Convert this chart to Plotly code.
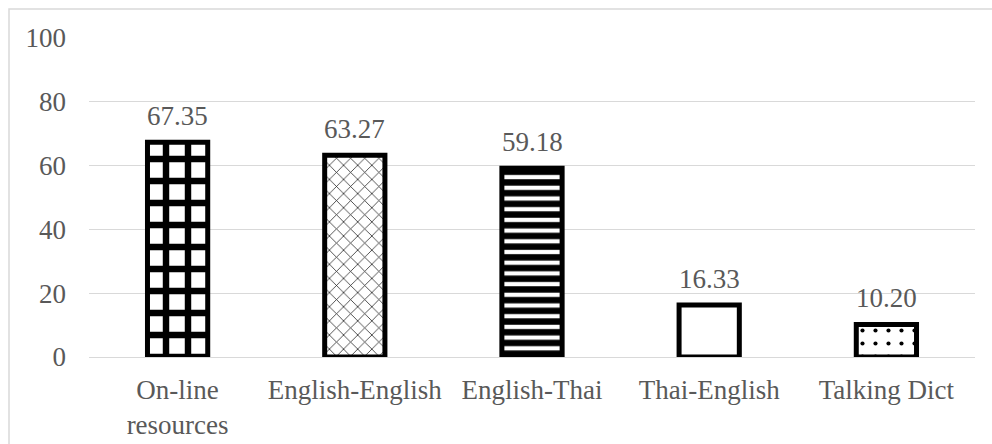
import plotly.graph_objects as go

categories = ["On-line<br>resources", "English-English", "English-Thai", "Thai-English", "Talking Dict"]
values = [67.35, 63.27, 59.18, 16.33, 10.20]
value_labels = ["67.35", "63.27", "59.18", "16.33", "10.20"]
y_ticks = [0, 20, 40, 60, 80, 100]

pattern_shapes = ["+", "x", "-", "", "."]
pattern_fg = ["black", "#222222", "black", "black", "black"]
pattern_size = [22, 10, 10.7, 10, 13]
pattern_solidity = [0.5, 0.15, 0.6, 0.3, 0.08]

FONT = "Liberation Serif"
GRAY = "#595959"
FS = 27

fig = go.Figure()
fig.add_trace(go.Bar(
    x=categories,
    y=values,
    width=0.34,
    marker=dict(
        color="white",
        line=dict(color="black", width=5),
        pattern=dict(shape=pattern_shapes, fgcolor=pattern_fg, bgcolor="white",
                     size=pattern_size, solidity=pattern_solidity,
                     fillmode="overlay", fgopacity=1),
    ),
    hoverinfo="skip",
))

for c, v, t in zip(categories, values, value_labels):
    fig.add_annotation(x=c, y=v, text=t, showarrow=False, yanchor="bottom", yshift=9,
                       font=dict(family=FONT, size=FS, color=GRAY))

fig.update_layout(
    width=992, height=444,
    margin=dict(l=89, r=17, t=38, b=87),
    paper_bgcolor="white",
    plot_bgcolor="white",
    showlegend=False,
    font=dict(family=FONT, size=FS, color=GRAY),
    xaxis=dict(showgrid=False, showline=False, ticks="", ticklabelstandoff=14, automargin=False,
               tickfont=dict(family=FONT, size=FS, color=GRAY)),
    yaxis=dict(range=[0, 100], tickvals=y_ticks, showgrid=True, gridcolor="#d9d9d9", gridwidth=1,
               zeroline=True, zerolinecolor="#d9d9d9", zerolinewidth=1, showline=False, ticks="",
               automargin=False, ticklabelstandoff=22, tickfont=dict(family=FONT, size=FS, color=GRAY)),
    shapes=[dict(type="rect", xref="paper", yref="paper",
                 x0=(9 - 89) / 886, x1=1.2, y0=-0.5, y1=(357 - 9) / 319,
                 line=dict(color="#d9d9d9", width=1.5), fillcolor="rgba(0,0,0,0)", layer="below")],
)

fig.write_html("out.html")
